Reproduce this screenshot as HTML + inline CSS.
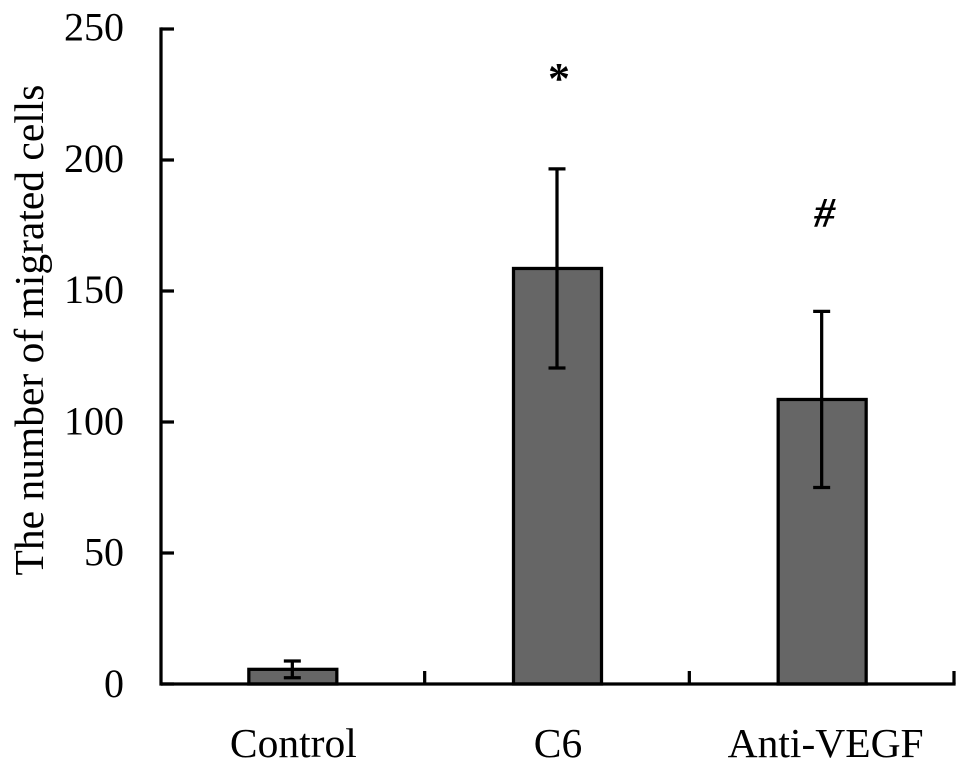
<!DOCTYPE html>
<html>
<head>
<meta charset="utf-8">
<style>
html,body{margin:0;padding:0;background:#fff;}
svg{display:block;}
text{font-family:"Liberation Serif",serif;fill:#000;}
</style>
</head>
<body>
<svg id="chart" width="969" height="768" viewBox="0 0 969 768" xmlns="http://www.w3.org/2000/svg">
<text transform="translate(43,330) rotate(-90)" text-anchor="middle" font-size="41.5">The number of migrated cells</text>
</svg>
<script>
const categories = ["Control", "C6", "Anti-VEGF"];
const means = [5.6, 158.6, 108.6];
const errors = [3.2, 38, 33.6];
const yTicks = [0, 50, 100, 150, 200, 250];
const marks = ["", "*", "#"];

const svg = document.getElementById('chart');
const NS = 'http://www.w3.org/2000/svg';
const plotLeft = 160, plotRight = 954, axisX = 161, y0 = 684, yTop = 29, yMax = 250;
const band = (plotRight - plotLeft) / categories.length;
const yScale = v => y0 - (v / yMax) * (y0 - yTop);
const xScale = i => plotLeft + band * (i + 0.5);

function line(x1, y1, x2, y2, w, name) {
  const l = document.createElementNS(NS, 'line');
  l.setAttribute('x1', x1);
  l.setAttribute('y1', y1);
  l.setAttribute('x2', x2);
  l.setAttribute('y2', y2);
  l.setAttribute('stroke', '#000');
  l.setAttribute('stroke-width', w);
  
  
  svg.appendChild(l);
}
function text(x, y, s, size, anchor, name) {
  const t = document.createElementNS(NS, 'text');
  t.setAttribute('x', x);
  t.setAttribute('y', y);
  t.setAttribute('font-size', size);
  t.setAttribute('text-anchor', anchor);
  
  
  t.textContent = s;
  svg.appendChild(t);
  return t;
}

categories.forEach((c, i) => {
  const cx = xScale(i), top = yScale(means[i]);
  const r = document.createElementNS(NS, 'rect');
  r.setAttribute('x', cx - 43.5);
  r.setAttribute('y', top);
  r.setAttribute('width', 88);
  r.setAttribute('height', y0 - top);
  r.setAttribute('fill', '#666');
  r.setAttribute('stroke', '#000');
  r.setAttribute('stroke-width', 3.25);
  
  
  svg.appendChild(r);
  const hi = yScale(means[i] + errors[i]), lo = yScale(means[i] - errors[i]);
  line(cx, hi, cx, lo, 3.25, 'error-bar-' + c.toLowerCase());
  line(cx - 8.5, hi, cx + 8.5, hi, 3.25, 'error-cap-upper-' + c.toLowerCase());
  line(cx - 8.5, lo, cx + 8.5, lo, 3.25, 'error-cap-lower-' + c.toLowerCase());
  text(cx + (i === 2 ? 4 : 1), 757, c, 41.5, 'middle', 'x-label-' + c.toLowerCase());
  if (marks[i] === '*') {
    const m = text(cx + 2, 93, marks[i], 44, 'middle', 'significance-mark-' + c.toLowerCase());
    m.setAttribute('font-weight', 'bold');
  } else if (marks[i] === '#') {
    const m = text(cx + 3, 227, marks[i], 42, 'middle', 'significance-mark-' + c.toLowerCase());
    m.setAttribute('font-style', 'italic');
    m.setAttribute('font-weight', 'bold');
  }
});

line(axisX, yTop - 1.6, axisX, y0 + 1.6, 3.25, 'y-axis-line');
line(axisX, y0, plotRight + 1.6, y0, 3.25, 'x-axis-line');
yTicks.forEach(v => {
  line(axisX, yScale(v), axisX + 13, yScale(v), 3.25, 'y-tick-' + v);
  text(124, yScale(v) + 13 - (v / yMax) * 1.5, String(v), 40, 'end', 'y-tick-label-' + v);
});
for (let i = 1; i <= categories.length; i++) {
  line(plotLeft + band * i, y0, plotLeft + band * i, y0 - 13, 3.25, 'x-tick-' + i);
}
</script>
</body>
</html>
